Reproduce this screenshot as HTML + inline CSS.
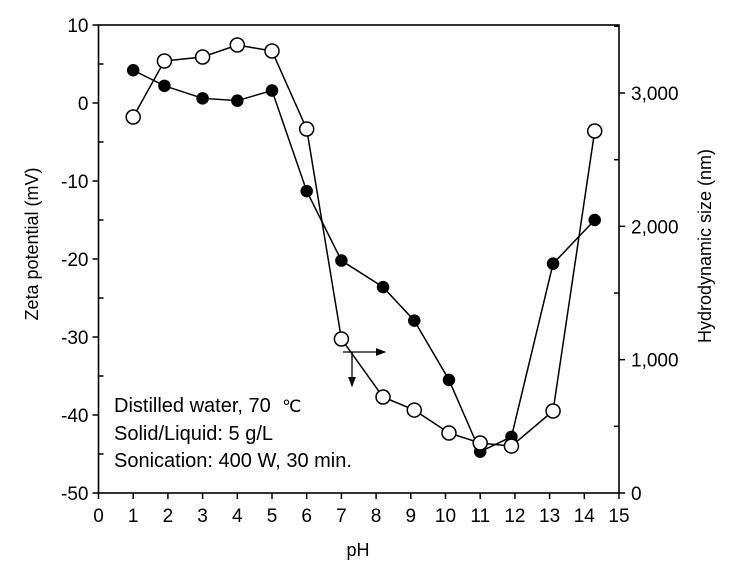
<!DOCTYPE html>
<html><head><meta charset="utf-8"><style>
body{margin:0;background:#fff}
svg{display:block;font-family:"Liberation Sans",Arial,sans-serif}
</style></head><body>
<svg id="c" width="734" height="571" viewBox="0 0 734 571">
<defs><marker id="ah" markerWidth="8" markerHeight="8" refX="7" refY="4" orient="auto"><path d="M0,1 L8,4 L0,7 z" fill="#000"/></marker></defs>
<g id="axes"></g><g id="series"></g>
<line x1="343" y1="352" x2="385" y2="352" stroke="#000" stroke-width="1.3" marker-end="url(#ah)"/>
<line x1="352" y1="352" x2="352" y2="386" stroke="#000" stroke-width="1.3" marker-end="url(#ah)"/>
<g font-size="20">
<text x="114" y="412">Distilled water, 70 <tspan font-size="17" dx="6">℃</tspan></text>
<text x="114" y="440">Solid/Liquid: 5 g/L</text>
<text x="114" y="467">Sonication: 400 W, 30 min.</text>
</g>
<text x="358" y="556" font-size="18" text-anchor="middle">pH</text>
<text transform="translate(38,244) rotate(-90)" font-size="18" text-anchor="middle">Zeta potential (mV)</text>
<text transform="translate(711,246) rotate(-90)" font-size="18" text-anchor="middle">Hydrodynamic size (nm)</text>
</svg>
<script>
const phZeta=[1.0,1.9,3.0,4.0,5.0,6.0,7.0,8.2,9.1,10.1,11.0,11.9,13.1,14.3];
const zeta=[4.2,2.2,0.6,0.3,1.6,-11.3,-20.2,-23.6,-27.9,-35.5,-44.7,-42.8,-20.6,-15.0];
const phSize=[1.0,1.9,3.0,4.0,5.0,6.0,7.0,8.2,9.1,10.1,11.0,11.9,13.1,14.3];
const size=[2820,3240,3270,3360,3315,2730,1155,720,622,450,375,352,615,2715];
const xTicks=[0,1,2,3,4,5,6,7,8,9,10,11,12,13,14,15];
const yLeftTicks=[10,0,-10,-20,-30,-40,-50];
const yRightTicks=[0,1000,2000,3000];
const yRightLabels=["0","1,000","2,000","3,000"];
const L=98.5,R=619,T=25,B=493;
const x=v=>L+(v-0)/15*(R-L);
const yL=v=>T+(10-v)/60*(B-T);
const yR=v=>B-v*0.13333;
const NS="http://www.w3.org/2000/svg";
function mk(tag,attrs,parent,txt){const e=document.createElementNS(NS,tag);for(const k in attrs)e.setAttribute(k,attrs[k]);if(txt!==undefined)e.textContent=txt;parent.appendChild(e);return e;}
const ax=document.getElementById('axes'),se=document.getElementById('series');
let f=mk('rect',{x:L,y:T,width:R-L,height:B-T,fill:'none',stroke:'#000','stroke-width':1.6},ax);


xTicks.forEach(v=>{mk('line',{x1:x(v),y1:B,x2:x(v),y2:B+6,stroke:'#000','stroke-width':1.5},ax);
 const t=mk('text',{x:x(v),y:B+29,'font-size':19,'text-anchor':'middle'},ax,String(v));
 
 });
yLeftTicks.forEach((v,i)=>{mk('line',{x1:L-6,y1:yL(v),x2:L,y2:yL(v),stroke:'#000','stroke-width':1.5},ax);
 if(i<yLeftTicks.length-1)mk('line',{x1:L,y1:yL(v-5),x2:L+5,y2:yL(v-5),stroke:'#000','stroke-width':1.5},ax);
 const t=mk('text',{x:L-10,y:yL(v)+7,'font-size':19,'text-anchor':'end'},ax,String(v));
 
 });
yRightTicks.forEach((v,i)=>{mk('line',{x1:R,y1:yR(v),x2:R+6,y2:yR(v),stroke:'#000','stroke-width':1.5},ax);
 mk('line',{x1:R-5,y1:yR(v+500),x2:R,y2:yR(v+500),stroke:'#000','stroke-width':1.5},ax);
 const t=mk('text',{x:R+12,y:yR(v)+7,'font-size':19},ax,yRightLabels[i]);
 
 });
function series(xs,ys,yf,fill,name){
 const p=mk('polyline',{points:xs.map((v,i)=>x(v)+','+yf(ys[i])).join(' '),fill:'none',stroke:'#000','stroke-width':1.5},se);
 
 
 xs.forEach((v,i)=>{const c=mk('circle',{cx:x(v),cy:yf(ys[i]),r:fill==='#000'?5.5:7,fill:fill,stroke:'#000','stroke-width':1.5},se);
 
 });
}
series(phZeta,zeta,yL,'#000','zeta-potential');
series(phSize,size,yR,'#fff','hydrodynamic-size');
</script>
</body></html>
